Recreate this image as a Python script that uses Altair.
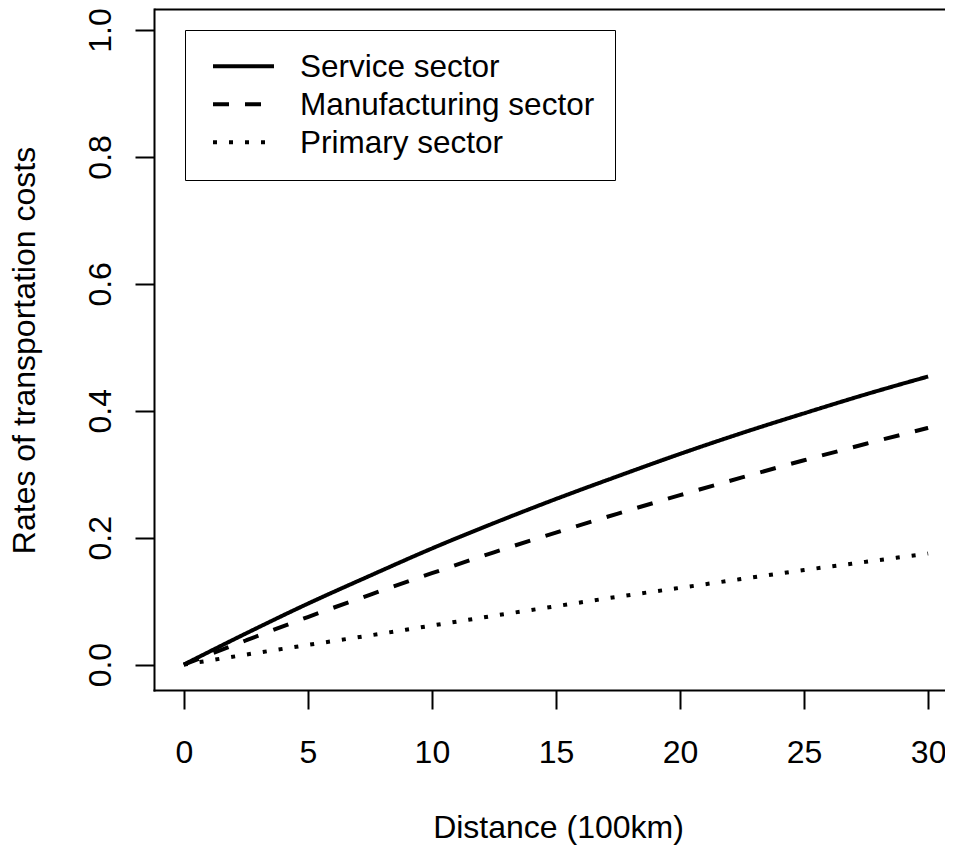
import altair as alt
import pandas as pd

# ---- data ----
distance = [0, 2.5, 5, 7.5, 10, 12.5, 15, 17.5, 20, 22.5, 25, 27.5, 30]
service = [0, 0.049, 0.096, 0.140, 0.183, 0.223, 0.261, 0.297, 0.332, 0.365, 0.396, 0.426, 0.454]
manufacturing = [0, 0.038, 0.075, 0.110, 0.144, 0.177, 0.208, 0.238, 0.267, 0.295, 0.322, 0.348, 0.373]
primary = [0, 0.0157, 0.031, 0.046, 0.0615, 0.077, 0.092, 0.107, 0.121, 0.135, 0.149, 0.162, 0.175]
sectors = ["Service sector", "Manufacturing sector", "Primary sector"]
x_ticks = [0, 5, 10, 15, 20, 25, 30]
y_ticks = [0.0, 0.2, 0.4, 0.6, 0.8, 1.0]

rows = []
for name, vals in zip(sectors, [service, manufacturing, primary]):
    for d, v in zip(distance, vals):
        rows.append({"distance": d, "rate": v, "sector": name})
df = pd.DataFrame(rows)

FONT = "Liberation Sans"
FS = 32

y_top = 1.0331  # upper end of the y domain; its grid line forms the top of the frame
x_scale = alt.Scale(domain=[-1.2, 30.68], nice=False, zero=False)
y_scale = alt.Scale(domain=[-0.04, y_top], nice=False, zero=False)

is_top = "datum.value > 1.02"

x_axis = alt.Axis(
    values=x_ticks, format="d", title="Distance (100km)",
    titleFont=FONT, titleFontSize=FS, titleFontWeight="normal", titleColor="black",
    titleX=404, titleY=147, titleBaseline="alphabetic", titleAlign="center",
    labelFont=FONT, labelFontSize=FS, labelColor="black", labelBaseline="alphabetic",
    labelPadding=53, labelFlush=False, labelOverlap=False, labelBound=False,
    tickSize=19, tickWidth=2, tickColor="black",
    domain=True, domainColor="black", domainWidth=2, domainCap="square", grid=False,
)
y_axis = alt.Axis(
    values=y_ticks + [y_top], format=".1f", title="Rates of transportation costs",
    labelExpr=f"{is_top} ? '' : datum.label",
    titleFont=FONT, titleFontSize=FS, titleFontWeight="normal", titleColor="black",
    titleAngle=270, titleX=-120, titleY=341, titleBaseline="alphabetic", titleAlign="center",
    labelFont=FONT, labelFontSize=FS, labelColor="black", labelAngle=270,
    labelAlign="center", labelBaseline="alphabetic", labelPadding=25,
    labelFlush=False, labelOverlap=False, labelBound=False,
    tickSize=19, tickWidth=2, tickColor="black",
    tickOpacity={"condition": {"test": is_top, "value": 0}, "value": 1},
    domain=True, domainColor="black", domainWidth=2, domainCap="square",
    grid=True, gridColor="black", gridWidth=2,
    gridOpacity={"condition": {"test": is_top, "value": 1}, "value": 0},
)

legend = alt.Legend(
    title=None, orient="none", legendX=31, legendY=21,
    symbolType="M-2,-0.12H2", symbolSize=930, symbolStrokeWidth=4,
    symbolStrokeColor="black", symbolFillColor="transparent",
    symbolOffset=20.5, labelOffset=39,
    labelFont=FONT, labelFontSize=31.5, labelColor="black", labelLimit=1000,
    labelBaseline="middle", rowPadding=5, padding=20.5,
    strokeColor="black", fillColor="white", cornerRadius=0,
)

chart = alt.Chart(df).mark_line(
    color="black", strokeWidth=4, strokeCap="butt", interpolate="monotone", clip=True
).encode(
    x=alt.X("distance:Q", scale=x_scale, axis=x_axis),
    y=alt.Y("rate:Q", scale=y_scale, axis=y_axis),
    strokeDash=alt.StrokeDash(
        "sector:N",
        scale=alt.Scale(domain=sectors, range=[[1, 0], [16, 16], [4, 12]]),
        legend=legend,
    ),
).properties(
    width=791, height=681,
    autosize=alt.AutoSizeParams(type="none"),
    padding={"left": 146, "top": 1, "right": 0, "bottom": 156},
    background="white",
).configure_view(strokeOpacity=0)

chart.save("out.html", embed_options={"renderer": "svg", "actions": False})
